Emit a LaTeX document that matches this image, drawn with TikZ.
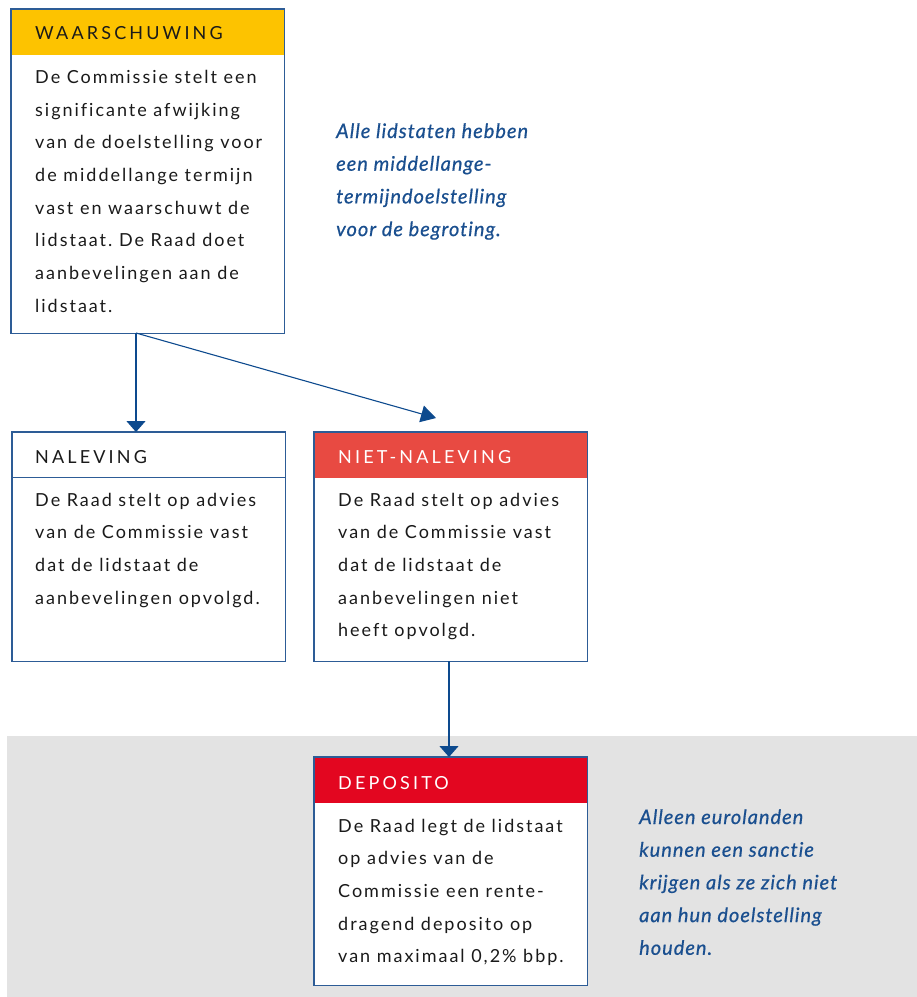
\documentclass[tikz,border=0pt]{standalone}
\usepackage{fontspec}
\setmainfont{Lato}[Ligatures=NoCommon]
\newfontfamily\bodyfont[LetterSpace=11,Ligatures=NoCommon]{Lato}
\newfontfamily\titlefont[LetterSpace=17.5,Ligatures=NoCommon]{Lato}
\newfontfamily\notefont[LetterSpace=5,Ligatures=NoCommon,ItalicFeatures={FakeBold=0.6,LetterSpace=5,Ligatures=NoCommon}]{Lato}
\frenchspacing
\usetikzlibrary{arrows.meta}
\definecolor{hdryellow}{HTML}{FDC300}
\definecolor{hdrred}{HTML}{E84A42}
\definecolor{hdrdeep}{HTML}{E30620}
\definecolor{bandgray}{HTML}{E3E3E3}
\definecolor{borderblue}{HTML}{2D5C96}
\definecolor{arrowblue}{HTML}{0D4A8E}
\definecolor{noteblue}{HTML}{1A4F8F}
\definecolor{textdark}{HTML}{1A1A1A}
\tikzset{
  x=1pt, y=-1pt,
  box/.style={fill=white, draw=none, inner sep=0pt, anchor=north west, minimum width=273pt},
  hdr/.style={inner sep=0pt, anchor=north west, minimum width=273pt, minimum height=46pt},
  outline/.style={draw=borderblue, line width=1.2pt},
  title/.style={inner sep=0pt, anchor=base west, font=\titlefont\fontsize{18}{20}\selectfont},
  body/.style={inner sep=0pt, anchor=base west, text=textdark, font=\bodyfont\fontsize{18}{32.7}\selectfont},
  note/.style={inner sep=0pt, anchor=base west, text=noteblue, font=\notefont\itshape\fontsize{20}{32.7}\selectfont},
  conn/.style={draw=arrowblue, line width=1.1pt, -{Triangle[length=11pt,width=19pt]}},
  conndiag/.style={draw=arrowblue, line width=1.1pt, -{Triangle[length=15pt,width=17pt]}},
}
\newcommand\stacklines[1]{\vtop{\baselineskip=32.7pt #1}}
\begin{document}
\begin{tikzpicture}
\useasboundingbox (0,0) rectangle (917,997);
% gray band
\fill[bandgray] (7,736) rectangle (917,997);

% WAARSCHUWING
\node[box, minimum height=324pt] (w) at (11,9) {};
\node[hdr, fill=hdryellow] (wh) at (w.north west) {};
\draw[outline] (w.north west) rectangle (w.south east);
\node[title, text=textdark] (wt) at (35,39.3) {WAARSCHUWING};
\node[body] (wb) at (35,83.3) {\stacklines{%
\hbox{De Commissie stelt een}\hbox{significante afwijking}\hbox{van de doelstelling voor}%
\hbox{de middellange termijn}\hbox{vast en waarschuwt de}\hbox{lidstaat. De Raad doet}%
\hbox{aanbevelingen aan de}\hbox{lidstaat.}}};

% note 1
\node[note] (n1) at (336,138) {\stacklines{%
\hbox{Alle lidstaten hebben}\hbox{een middellange-}\hbox{termijndoelstelling}\hbox{voor de begroting.}}};

% NALEVING
\node[box, minimum height=229pt] (na) at (12,432) {};
\draw[outline] (na.north west) rectangle (na.south east);
\draw[outline] ([yshift=-45.5pt]na.north west) coordinate (nasep) -- ([yshift=-45.5pt]na.north east);
\node[title, text=textdark] (nat) at (35,463.3) {NALEVING};
\node[body] (nab) at (35,506) {\stacklines{%
\hbox{De Raad stelt op advies}\hbox{van de Commissie vast}\hbox{dat de lidstaat de}\hbox{aanbevelingen opvolgd.}}};

% NIET-NALEVING
\node[box, minimum height=229pt] (nn) at (314,432) {};
\node[hdr, fill=hdrred] (nnh) at (nn.north west) {};
\draw[outline] (nn.north west) rectangle (nn.south east);
\node[title, text=white] (nnt) at (338,463.3) {NIET-NALEVING};
\node[body] (nnb) at (338,506) {\stacklines{%
\hbox{De Raad stelt op advies}\hbox{van de Commissie vast}\hbox{dat de lidstaat de}%
\hbox{aanbevelingen niet}\hbox{heeft opvolgd.}}};

% DEPOSITO
\node[box, minimum height=228pt] (d) at (314,757) {};
\node[hdr, fill=hdrdeep] (dh) at (d.north west) {};
\draw[outline] (d.north west) rectangle (d.south east);
\node[title, text=white] (dt) at (338,789) {DEPOSITO};
\node[body] (db) at (338,832) {\stacklines{%
\hbox{De Raad legt de lidstaat}\hbox{op advies van de}\hbox{Commissie een rente-}%
\hbox{dragend deposito op}\hbox{van maximaal 0,2\% bbp.}}};

% note 2
\node[note] (n2) at (639,824) {\stacklines{%
\hbox{Alleen eurolanden}\hbox{kunnen een sanctie}\hbox{krijgen als ze zich niet}%
\hbox{aan hun doelstelling}\hbox{houden.}}};

% connectors
\coordinate (wout) at (136,333);
\coordinate (diagend) at (436,418);
\draw[conn] (wout) -- (wout |- na.north);
\draw[conndiag] (wout) -- (diagend);
\draw[conn] (449,661) coordinate (nnout) -- (nnout |- d.north);
\end{tikzpicture}
\end{document}
